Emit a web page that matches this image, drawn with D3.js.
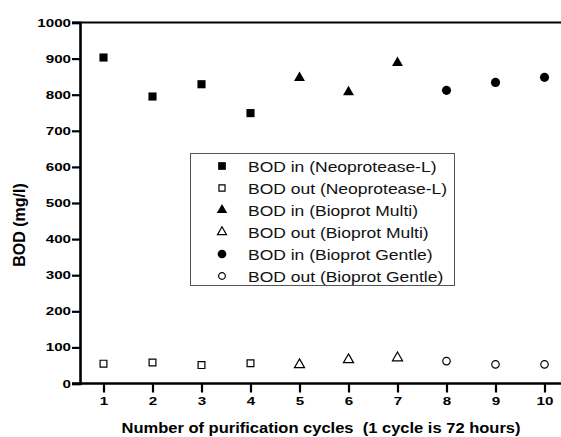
<!DOCTYPE html>
<html>
<head>
<meta charset="utf-8">
<script src="https://cdn.jsdelivr.net/npm/d3@7"></script>
<style>
  body { margin: 0; background: #fff; }
  svg { display: block; font-family: Arial, "Liberation Sans", sans-serif; }
  .tick text { font-weight: bold; font-size: 11px; fill: #000; }
</style>
</head>
<body>
<svg width="561" height="437"></svg>
<script>
var cycles = [1, 2, 3, 4, 5, 6, 7, 8, 9, 10];
var bodIn = [903, 795, 829, 749, 847, 807, 888, 812, 834, 848];
var bodOut = [55, 58, 51, 56, 52, 66, 71, 62, 53, 53];
// which enzyme each cycle belongs to
var enzyme = ["Neoprotease-L", "Neoprotease-L", "Neoprotease-L", "Neoprotease-L",
  "Bioprot Multi", "Bioprot Multi", "Bioprot Multi",
  "Bioprot Gentle", "Bioprot Gentle", "Bioprot Gentle"];
var enzymes = ["Neoprotease-L", "Bioprot Multi", "Bioprot Gentle"];
var yTicks = [0, 100, 200, 300, 400, 500, 600, 700, 800, 900, 1000];

var svg = d3.select("svg"),
  width = +svg.attr("width"),
  height = +svg.attr("height");

var x = d3.scaleLinear().domain([0.5, 10.5]).range([79, 569]);
var y = d3.scaleLinear().domain([0, 1000]).range([383.5, 22.5]);

var shapes = {
  "Neoprotease-L": d3.symbolSquare,
  "Bioprot Multi": d3.symbolTriangle,
  "Bioprot Gentle": d3.symbolCircle
};
var sizes = { "Neoprotease-L": 66, "Bioprot Multi": 52, "Bioprot Gentle": 66 };
var sizesOut = { "Neoprotease-L": 46, "Bioprot Multi": 44, "Bioprot Gentle": 44 };

// top frame line
svg.append("line")
  .attr("x1", 72).attr("x2", width)
  .attr("y1", y(1000)).attr("y2", y(1000))
  .attr("stroke", "#000").attr("stroke-width", 2.2);

var yAxis = svg.append("g")
  .attr("transform", "translate(80,0)")
  .call(d3.axisLeft(y).tickValues(yTicks).tickFormat(d3.format("d")).tickSize(8).tickPadding(4));
yAxis.select(".domain").attr("stroke-width", 2.6);
yAxis.selectAll(".tick line").attr("stroke-width", 2.2);
yAxis.selectAll(".tick text")
  .attr("transform", "scale(1.38,1)")
  .attr("x", -9 / 1.38);

var xAxis = svg.append("g")
  .attr("transform", "translate(0," + y(0) + ")")
  .call(d3.axisBottom(x).tickValues(cycles).tickSize(9).tickPadding(5).tickSizeOuter(0));
xAxis.select(".domain").attr("d", "M72,0H" + width).attr("stroke-width", 2.6);
xAxis.selectAll(".tick line").attr("stroke-width", 2.2);
xAxis.selectAll(".tick text").attr("transform", "scale(1.38,1)");

// points
var pts = svg.append("g");
pts.selectAll(".in")
  .data(cycles)
  .enter().append("path")
  .attr("class", "in")
  .attr("transform", function(d, i) { return "translate(" + x(d) + "," + y(bodIn[i]) + ")"; })
  .attr("d", function(d, i) { return d3.symbol(shapes[enzyme[i]], sizes[enzyme[i]])(); })
  .attr("fill", "#000");

pts.selectAll(".out")
  .data(cycles)
  .enter().append("path")
  .attr("class", "out")
  .attr("transform", function(d, i) { return "translate(" + x(d) + "," + y(bodOut[i]) + ")"; })
  .attr("d", function(d, i) { return d3.symbol(shapes[enzyme[i]], sizesOut[enzyme[i]])(); })
  .attr("fill", "#fff").attr("stroke", "#000").attr("stroke-width", 1.2);

// axis titles
svg.append("text")
  .attr("x", 321).attr("y", 433)
  .attr("text-anchor", "middle")
  .attr("font-weight", "bold").attr("font-size", 15)
  .attr("textLength", 399).attr("lengthAdjust", "spacingAndGlyphs")
  .style("white-space", "pre")
  .text("Number of purification cycles  (1 cycle is 72 hours)");

svg.append("text")
  .attr("transform", "translate(25,225) rotate(-90)")
  .attr("text-anchor", "middle")
  .attr("font-weight", "bold").attr("font-size", 16)
  .text("BOD (mg/l)");

// legend
var legendItems = [];
enzymes.forEach(function(e) {
  legendItems.push({ label: "BOD in (" + e + ")", enzyme: e, filled: true });
  legendItems.push({ label: "BOD out (" + e + ")", enzyme: e, filled: false });
});

var legend = svg.append("g");
legend.append("rect")
  .attr("x", 190.5).attr("y", 153.5).attr("width", 264).attr("height", 132)
  .attr("fill", "#fff").attr("stroke", "#555").attr("stroke-width", 1);

var row = legend.selectAll(".row")
  .data(legendItems)
  .enter().append("g")
  .attr("class", "row")
  .attr("transform", function(d, i) { return "translate(0," + (166 + i * 22) + ")"; });

row.append("path")
  .attr("transform", "translate(222,0)")
  .attr("d", function(d) { return d3.symbol(shapes[d.enzyme], d.filled ? sizes[d.enzyme] * 0.9 : sizesOut[d.enzyme] * 0.8)(); })
  .attr("fill", function(d) { return d.filled ? "#000" : "#fff"; })
  .attr("stroke", function(d) { return d.filled ? "none" : "#000"; })
  .attr("stroke-width", 1.2);

row.append("text")
  .attr("transform", "translate(248,6) scale(1.25,1)")
  .attr("font-size", 14)
  .attr("fill", "#111")
  .text(function(d) { return d.label; });
</script>
</body>
</html>
